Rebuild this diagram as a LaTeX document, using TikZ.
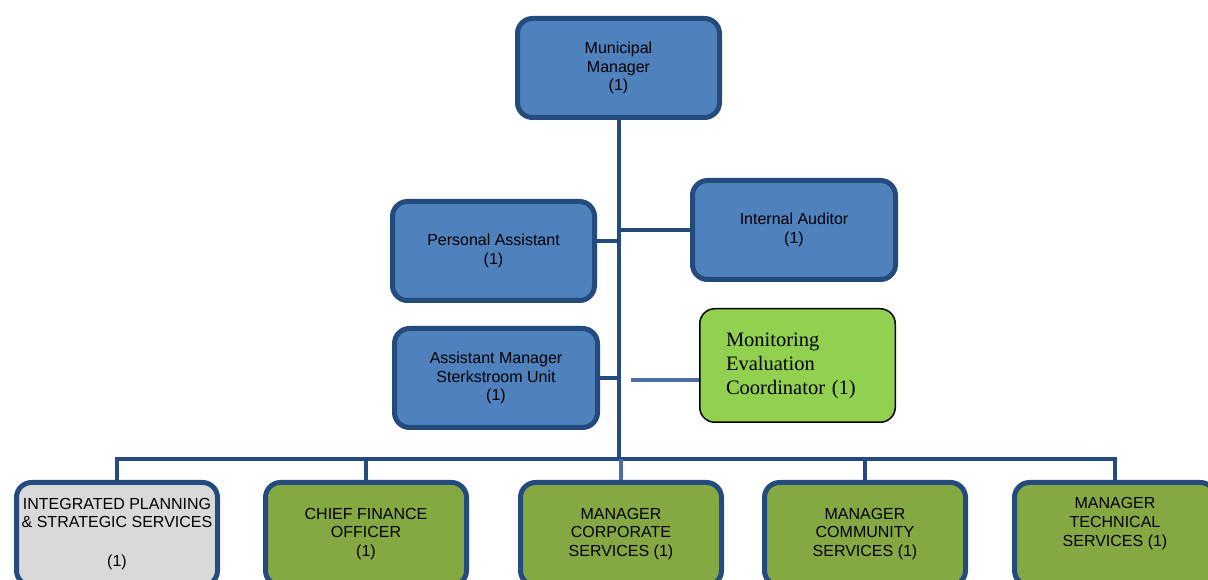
\documentclass[tikz,border=0pt]{standalone}
\usepackage{fontspec}
\setmainfont{Liberation Sans}
\newfontfamily\timesfont{Liberation Serif}
\definecolor{boxblue}{HTML}{4F81BD}
\definecolor{edgeblue}{HTML}{234B7D}
\definecolor{lineblue}{HTML}{234B7D}
\definecolor{lightline}{HTML}{4A6FA0}
\definecolor{deptgreen}{HTML}{86A843}
\definecolor{megreen}{HTML}{92D050}
\definecolor{greybox}{HTML}{D9D9D9}
\tikzset{
  box/.style={draw=edgeblue, line width=5pt, rounded corners=15pt,
    minimum width=202pt, minimum height=99pt, inner sep=2pt, align=center,
    font=\fontsize{16}{18.7}\selectfont, text=black},
  bluebox/.style={box, fill=boxblue},
  deptbox/.style={box, fill=deptgreen, minimum width=201pt, minimum height=103pt},
  conn/.style={draw=lineblue, line width=4pt},
  lightconn/.style={draw=lightline, line width=4pt},
  txt/.style={align=center, font=\fontsize{16}{18.7}\selectfont, text=black, inner sep=0pt},
}
\begin{document}
\begin{tikzpicture}[x=1pt,y=1pt]
\useasboundingbox (0,0) rectangle (1208,580);
\clip (0,0) rectangle (1208,580);
\fill[white] (0,0) rectangle (1208,580);

% top
\node[bluebox] (mm) at (618.5,512) {Municipal\\Manager\\(1)};
\node[bluebox] (pa) at (493.5,329) {Personal Assistant\\(1)};
\node[bluebox, minimum width=203pt] (ia) at (794,350) {Internal Auditor\\(1)};
\node[bluebox, minimum width=203pt] (am) at (496,202) {Assistant Manager\\Sterkstroom Unit\\(1)};
\node[draw=black, line width=1.5pt, fill=megreen, rounded corners=15pt,
      minimum width=195.5pt, minimum height=113.5pt, text width=143pt,
      inner xsep=26pt, align=left, font=\timesfont\fontsize{20.5}{24}\selectfont]
      (mec) at (797.5,214.5) {Monitoring\\Evaluation\\Coordinator (1)};

% bottom row
\node[deptbox, fill=greybox] (ips) at (117,46)
  {INTEGRATED PLANNING\\\& STRATEGIC SERVICES\\[20pt](1)};
\node[deptbox] (cfo) at (366,46) {CHIEF FINANCE\\OFFICER\\(1)};
\node[deptbox] (mcs) at (621,46) {MANAGER\\CORPORATE\\SERVICES (1)};
\node[deptbox] (mcom) at (865,46) {MANAGER\\COMMUNITY\\SERVICES (1)};
\node[deptbox] (mts) at (1115,46) {};
\node[txt] (mtstext) at (1115,56.5) {MANAGER\\TECHNICAL\\SERVICES (1)};

% connectors
\coordinate (bus) at (117,121);
\coordinate (paj) at (619,339);
\coordinate (mel) at (631,200);
\draw[conn] (mm.south) -- (mm.south |- bus);
\draw[conn] (ips.north) -- (ips.north |- bus) -- (mts.north |- bus) -- (mts.north);
\draw[conn] (cfo.north) -- (cfo.north |- bus);
\draw[lightconn] (mcs.north) -- (mcs.north |- bus);
\draw[conn] (mcom.north) -- (mcom.north |- bus);
\draw[conn] (pa.east |- paj) -- (paj);
\draw[conn] (ia.west) -- (ia.west -| mm.south);
\draw[conn] (am.east) -- (am.east -| mm.south);
\draw[lightconn] (mel) -- (mel -| mec.west);
\end{tikzpicture}
\end{document}
